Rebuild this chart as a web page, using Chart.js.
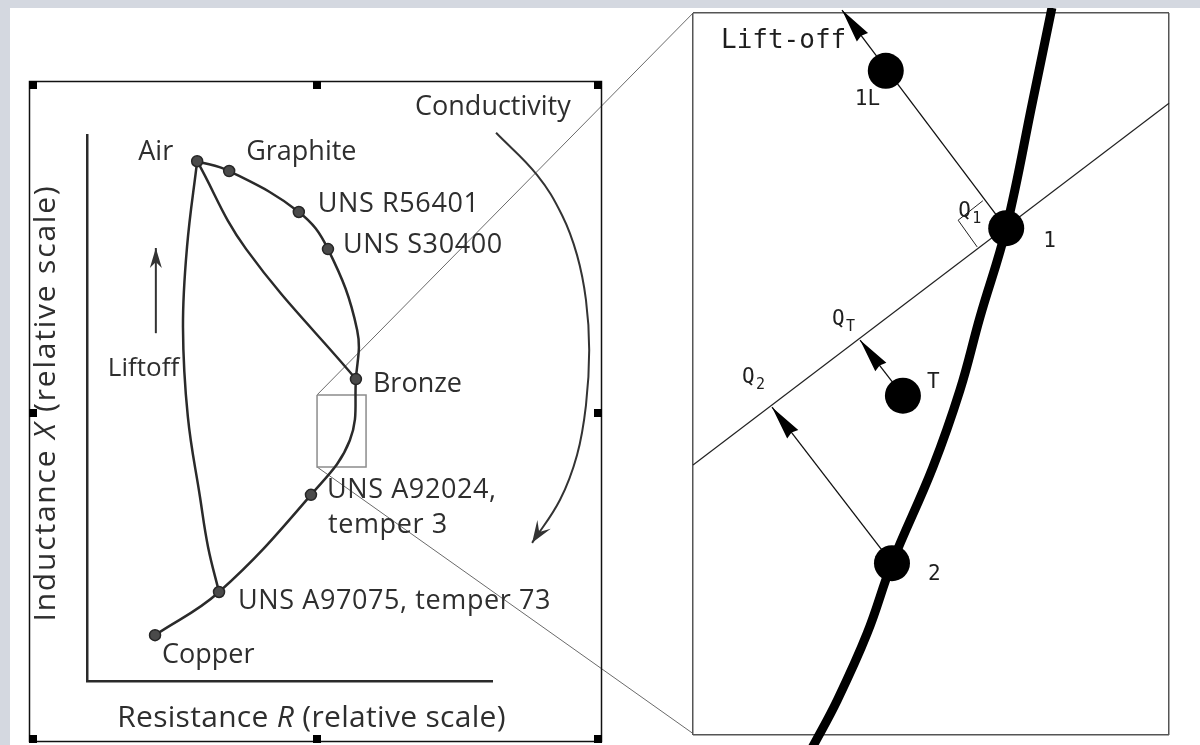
<!DOCTYPE html>
<html>
<head>
<meta charset="utf-8">
<title>Eddy current impedance plane</title>
<script src="https://cdn.jsdelivr.net/npm/chart.js@4.4.1/dist/chart.umd.min.js"></script>
<style>
  html, body { margin: 0; padding: 0; background: #d4d8e0; }
  #sheet { position: absolute; left: 10px; top: 8px; width: 1190px; height: 737px; background: #fff; overflow: hidden; }
  #planeWrap { position: absolute; left: -10px; top: -8px; width: 700px; height: 745px; }
  #zoomWrap { position: absolute; left: 680px; top: -8px; width: 510px; height: 745px; }
</style>
</head>
<body>
<div id="sheet">
  <div id="planeWrap"><canvas id="planeChart" width="700" height="745"></canvas></div>
  <div id="zoomWrap"><canvas id="zoomChart" width="510" height="745"></canvas></div>
</div>
<script>
// ---- impedance plane (relative units, 0..100 on both axes) ----
var materialLabels = [['Air'], ['Graphite'], ['UNS R56401'], ['UNS S30400'], ['Bronze'],
                      ['UNS A92024,', 'temper 3'], ['UNS A97075, temper 73'], ['Copper']];
var resistance = [27.2, 35.1, 52.3, 59.5, 66.4, 55.3, 32.6, 16.8];
var inductance = [95.2, 93.4, 85.9, 79.1, 55.3, 34.1, 16.3, 8.4];

// conductivity locus, Air through Copper
var locusR = [27.2, 35.1, 52.3, 59.5, 66.7, 66.4, 64.9, 55.3, 32.6, 16.8];
var locusX = [95.2, 93.4, 85.9, 79.1, 64.3, 55.3, 44.1, 34.1, 16.3, 8.4];
// Air to Bronze
var airBronzeR = [27.2, 39.3, 66.4];
var airBronzeX = [95.2, 79.1, 55.3];
// Air down to UNS A97075
var airAlloyR = [27.2, 24.7, 23.7, 24.9, 27.9, 29.9, 32.6];
var airAlloyX = [95.2, 79.5, 64.8, 48.4, 33.7, 24.5, 16.3];
// "Conductivity" arrow
var arcR = [101.0, 111.1, 117.3, 121.0, 123.2, 124.0, 123.2, 121.0, 116.8, 109.9];
var arcX = [100.4, 92.7, 85.3, 78.0, 69.8, 60.6, 50.5, 41.4, 33.2, 25.3];
// "Liftoff" arrow
var liftR = [17.0, 17.0];
var liftX = [63.7, 79.3];
// zoomed window and its connectors
var zoomR = [56.8, 68.9, 68.9, 56.8, 56.8];
var zoomX = [52.4, 52.4, 39.2, 39.2, 52.4];
var connTopR = [56.8, 149.6];
var connTopX = [52.4, 122.3];
var connBotR = [56.8, 149.4];
var connBotX = [39.2, -9.5];

// ---- zoomed detail (relative units, 0..100) ----
var curveU = [75.4, 71.4, 65.8, 60.3, 56.1, 50.4, 41.8, 36.6, 30.3, 25.0];
var curveV = [100.7, 87.9, 70.2, 57.9, 47.8, 37.1, 23.8, 14.1, 4.8, -1.8];
var probeNames = ['1L', '1', 'T', '2'];
var probeU = [40.5, 65.8, 44.1, 41.8];
var probeV = [92.0, 70.2, 47.0, 23.8];
var phaseU = [0, 100];
var phaseV = [37.4, 87.5];
var liftoffU = [65.8, 31.3];
var liftoffV = [70.2, 100.4];
var qtU = [44.1, 35.1];
var qtV = [47.0, 54.7];
var q2U = [41.8, 16.6];
var q2V = [23.8, 45.4];
var squareU = [60.9, 55.7, 59.7];
var squareV = [74.0, 71.3, 67.6];

var ink = '#2a2a2a';
var textInk = '#2e2e2e';
var sans = '"Open Sans", sans-serif';
var mono = '"DejaVu Sans Mono", monospace';

function pts(xs, ys) {
    return xs.map(function (x, i) { return { x: x, y: ys[i] }; });
}

function lineSet(label, xs, ys, color, width, extra) {
    var ds = {
        label: label,
        data: pts(xs, ys),
        showLine: true,
        borderColor: color,
        borderWidth: width,
        pointRadius: 0,
        tension: 0.4,
        clip: false
    };
    for (var k in extra) ds[k] = extra[k];
    return ds;
}

function hiddenAxis(pos, min, max, border) {
    return {
        type: 'linear', position: pos, min: min, max: max,
        grid: { display: false, drawTicks: false },
        ticks: { display: false },
        border: border
    };
}

// axis whose only grid lines sit at both ends, giving a plain frame
function frameAxis(pos) {
    return {
        type: 'linear', position: pos, min: 0, max: 100,
        afterBuildTicks: function (axis) { axis.ticks = [{ value: 0 }, { value: 100 }]; },
        grid: { display: true, drawTicks: false, color: '#555', lineWidth: 1.5 },
        ticks: { display: false },
        border: { display: false }
    };
}

// filled arrowhead at the end of any dataset that has an `arrow` entry
function drawArrow(ctx, from, to, a) {
    var ang = Math.atan2(to.y - from.y, to.x - from.x);
    ctx.save();
    ctx.translate(to.x, to.y);
    ctx.rotate(ang);
    ctx.beginPath();
    ctx.moveTo(0, 0);
    ctx.lineTo(-a.len, -a.half);
    ctx.lineTo(-a.len + a.notch, 0);
    ctx.lineTo(-a.len, a.half);
    ctx.closePath();
    ctx.fillStyle = a.color;
    ctx.fill();
    ctx.restore();
}

var arrowPlugin = {
    id: 'arrowHeads',
    afterDatasetsDraw: function (chart) {
        var ctx = chart.ctx;
        chart.data.datasets.forEach(function (ds, i) {
            if (!ds.arrow) return;
            var el = chart.getDatasetMeta(i).data;
            var to = el[el.length - 1];
            var from = el[el.length - 2];
            if (to.cp1x !== undefined && Math.hypot(to.cp1x - to.x, to.cp1y - to.y) > 1) {
                from = { x: to.cp1x, y: to.cp1y };
            }
            drawArrow(ctx, from, to, ds.arrow);
        });
    }
};

function text(ctx, str, x, y, font, color, align) {
    ctx.font = font;
    ctx.fillStyle = color;
    ctx.textAlign = align || 'left';
    ctx.textBaseline = 'alphabetic';
    ctx.fillText(str, x, y);
}

// label placement beside each material point: [dx, dy, align]
var materialOffsets = [[-24, -1, 'right'], [17, -11], [19, 0], [15, 4], [17, 13], [16, 3], [19, 17], [7, 28]];

var planeLabels = {
    id: 'planeLabels',
    afterDraw: function (chart) {
        var ctx = chart.ctx;
        var xs = chart.scales.x, ys = chart.scales.y;
        var area = chart.chartArea;
        ctx.save();

        // selection frame round the figure
        ctx.strokeStyle = '#111';
        ctx.lineWidth = 1.5;
        ctx.strokeRect(29.5, 81.5, 572, 660);
        ctx.fillStyle = '#000';
        [[29, 81], [313, 81], [594, 81], [29, 409], [594, 409], [29, 735], [313, 735], [594, 735]].forEach(function (h) {
            ctx.fillRect(h[0], h[1], 8, 8);
        });

        var font = '27px ' + sans;
        materialLabels.forEach(function (lines, i) {
            var off = materialOffsets[i];
            var px = xs.getPixelForValue(resistance[i]) + off[0];
            var py = ys.getPixelForValue(inductance[i]) + off[1];
            ctx.letterSpacing = lines[0].indexOf('UNS') === 0 ? '0.6px' : '0px';
            lines.forEach(function (ln, j) {
                text(ctx, ln, px + (j ? 1 : 0), py + j * 35, font, textInk, off[2]);
            });
        });
        ctx.letterSpacing = '0px';

        text(ctx, 'Conductivity', xs.getPixelForValue(arcR[0]) - 81, 115, '27px ' + sans, textInk, 'left');
        text(ctx, 'Liftoff', xs.getPixelForValue(liftR[0]) - 48, 376, '26px ' + sans, textInk, 'left');

        // axis titles with italic symbols
        function mixed(parts, x, y, spacing) {
            ctx.letterSpacing = spacing + 'px';
            var total = 0;
            parts.forEach(function (p) { ctx.font = p[1]; total += ctx.measureText(p[0]).width; });
            var cx = x - total / 2;
            parts.forEach(function (p) {
                ctx.font = p[1];
                ctx.fillStyle = textInk;
                ctx.textAlign = 'left';
                ctx.fillText(p[0], cx, y);
                cx += ctx.measureText(p[0]).width;
            });
            ctx.letterSpacing = '0px';
        }
        var reg = '30px ' + sans, ital = 'italic 30px ' + sans;
        mixed([['Resistance ', reg], ['R', ital], [' (relative scale)', reg]], (area.left + area.right) / 2 + 22, 727, 0.3);
        ctx.save();
        ctx.translate(55, 403);
        ctx.rotate(-Math.PI / 2);
        mixed([['Inductance ', reg], ['X', ital], [' (relative scale)', reg]], 0, 0, 1.8);
        ctx.restore();

        ctx.restore();
    }
};

new Chart(document.getElementById('planeChart').getContext('2d'), {
    type: 'scatter',
    data: {
        datasets: [
            {
                label: 'Materials',
                data: pts(resistance, inductance),
                showLine: false,
                pointRadius: 5.5,
                pointBackgroundColor: '#4a4a4a',
                pointBorderColor: '#262626',
                pointBorderWidth: 1.5
            },
            lineSet('Locus', locusR, locusX, ink, 2.5, {}),
            lineSet('Air to Bronze', airBronzeR, airBronzeX, ink, 2.5, {}),
            lineSet('Air to A97075', airAlloyR, airAlloyX, ink, 2.5, {}),
            lineSet('Conductivity', arcR, arcX, '#333', 2, { arrow: { len: 22, half: 8, notch: 9, color: '#333' } }),
            lineSet('Liftoff', liftR, liftX, '#333', 2, { tension: 0, arrow: { len: 20, half: 6, notch: 6, color: '#333' } }),
            lineSet('Zoom window', zoomR, zoomX, '#8c8c8c', 1.5, { tension: 0 }),
            lineSet('Connector top', connTopR, connTopX, '#6a6a6a', 1, { tension: 0 }),
            lineSet('Connector bottom', connBotR, connBotX, '#6a6a6a', 1, { tension: 0 })
        ]
    },
    options: {
        responsive: false,
        animation: false,
        events: [],
        layout: { autoPadding: false, padding: { left: 87, right: 208, top: 135, bottom: 64 } },
        plugins: { legend: { display: false }, tooltip: { enabled: false } },
        scales: {
            x: hiddenAxis('bottom', 0, 100, { display: true, color: ink, width: 2.5 }),
            y: hiddenAxis('left', 0, 100, { display: true, color: ink, width: 2.5 })
        }
    },
    plugins: [arrowPlugin, planeLabels]
});

// label placement in the detail view: [dx, dy] from the probe point
var probeOffsets = [[-31, 34], [37, 19], [24, -8], [36, 17]];

var zoomLabels = {
    id: 'zoomLabels',
    afterDraw: function (chart) {
        var ctx = chart.ctx;
        var us = chart.scales.x, vs = chart.scales.y;
        ctx.save();
        var f = '21px ' + mono, sub = '15px ' + mono, col = '#1e1e1e';
        probeNames.forEach(function (n, i) {
            var px = us.getPixelForValue(probeU[i]) + probeOffsets[i][0];
            var py = vs.getPixelForValue(probeV[i]) + probeOffsets[i][1];
            text(ctx, n, px, py, f, col, 'left');
        });
        var tipX = us.getPixelForValue(liftoffU[1]), tipY = vs.getPixelForValue(liftoffV[1]);
        text(ctx, 'Lift-off', tipX - 121, tipY + 38, '26px ' + mono, col, 'left');

        function qLabel(s, x, y) {
            text(ctx, 'Q', x, y, f, col, 'left');
            text(ctx, s, x + 14, y + 6, sub, col, 'left');
        }
        qLabel('1', us.getPixelForValue(probeU[1]) - 48, vs.getPixelForValue(probeV[1]) - 11);
        qLabel('T', us.getPixelForValue(qtU[1]) - 28, vs.getPixelForValue(qtV[1]) - 15);
        qLabel('2', us.getPixelForValue(q2U[1]) - 30, vs.getPixelForValue(q2V[1]) - 24);
        ctx.restore();
    }
};

new Chart(document.getElementById('zoomChart').getContext('2d'), {
    type: 'scatter',
    data: {
        datasets: [
            {
                label: 'Probe signals',
                data: pts(probeU, probeV),
                showLine: false,
                pointRadius: 18,
                pointBackgroundColor: '#000',
                pointBorderWidth: 0,
                clip: false
            },
            lineSet('Conductivity curve', curveU, curveV, '#000', 9, { borderCapStyle: 'butt' }),
            lineSet('Phase line', phaseU, phaseV, '#222', 1.2, { tension: 0 }),
            lineSet('Lift-off', liftoffU, liftoffV, '#111', 1.3, { tension: 0, arrow: { len: 34, half: 7, notch: 2, color: '#000' } }),
            lineSet('Q T', qtU, qtV, '#111', 1.3, { tension: 0, arrow: { len: 34, half: 7, notch: 2, color: '#000' } }),
            lineSet('Q 2', q2U, q2V, '#111', 1.3, { tension: 0, arrow: { len: 34, half: 7, notch: 2, color: '#000' } }),
            lineSet('Right angle', squareU, squareV, '#222', 1, { tension: 0 })
        ]
    },
    options: {
        responsive: false,
        animation: false,
        events: [],
        layout: { autoPadding: false, padding: { left: 3, right: 31, top: 13, bottom: 10 } },
        plugins: { legend: { display: false }, tooltip: { enabled: false } },
        scales: {
            x: frameAxis('bottom'),
            y: frameAxis('left')
        }
    },
    plugins: [arrowPlugin, zoomLabels]
});
</script>
</body>
</html>
